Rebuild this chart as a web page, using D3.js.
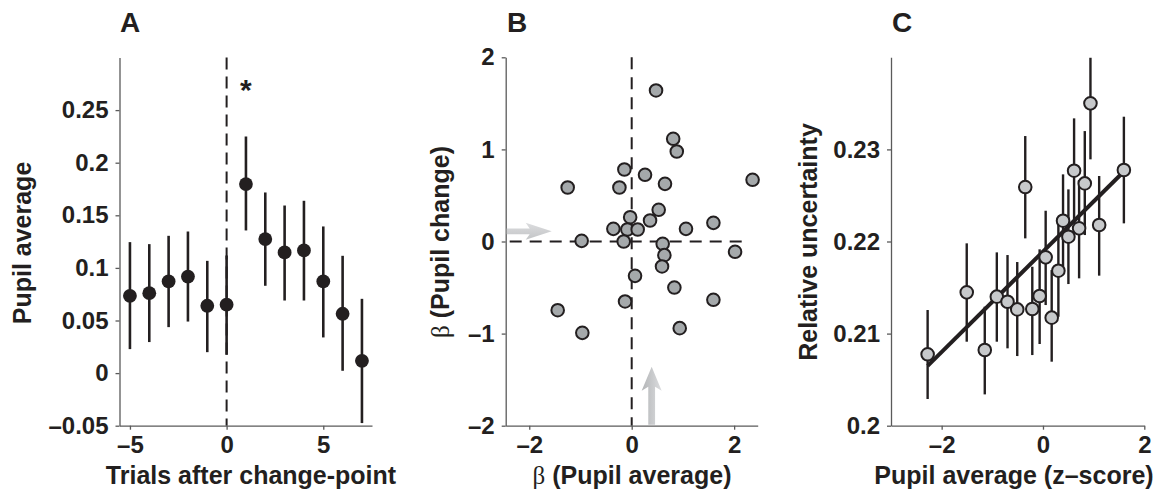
<!DOCTYPE html>
<html><head><meta charset="utf-8">
<script src="https://cdn.jsdelivr.net/npm/d3@7"></script>
<style>
body{margin:0;background:#fff}
svg{display:block}
text{font-family:"Liberation Sans",Arial,Helvetica,sans-serif;font-weight:bold;fill:#231f20}
</style>
</head><body>
<svg id="chart" width="1171" height="498"></svg>
<script>
// ---------- Panel A data ----------
const trialsA = [-5,-4,-3,-2,-1,0,1,2,3,4,5,6,7];
const meanA   = [0.0735,0.076,0.0871,0.0918,0.064,0.065,0.1797,0.1274,0.1147,0.1166,0.0871,0.0564,0.0117];
const upperA  = [0.1245,0.1226,0.1305,0.1346,0.1067,0.1118,0.2249,0.1717,0.1593,0.1638,0.1394,0.1115,0.0706];
const lowerA  = [0.0228,0.0295,0.0437,0.049,0.0199,0.0174,0.1356,0.083,0.069,0.069,0.0339,0.0022,-0.0475];
const starTrialA = 1, starLevelA = 0.276;
const xTicksA = [-5,0,5];
const yTicksA = [-0.05,0,0.05,0.1,0.15,0.2,0.25];

// ---------- Panel B data ----------
const betaAvgB    = [0.475,0.81,0.88,-0.143,0.26,-1.25,-0.24,0.65,2.36,0.527,-0.03,0.358,-0.358,-0.085,0.117,1.06,1.595,-0.977,-0.156,0.605,0.638,0.592,2.018,0.065,0.833,1.595,-0.13,-1.445,-0.964,0.9375];
const betaChangeB = [1.64,1.115,0.977,0.782,0.724,0.586,0.586,0.626,0.67,0.344,0.264,0.228,0.1375,0.13,0.13,0.1375,0.2027,0.007,0.0,-0.025,-0.148,-0.271,-0.112,-0.373,-0.5,-0.633,-0.651,-0.746,-0.992,-0.941];
const meanBetaAvgB = 0.39, meanBetaChangeB = 0.11;
const xTicksB = [-2,0,2];
const yTicksB = [-2,-1,0,1,2];

// ---------- Panel C data ----------
const zC      = [-2.277,-1.505,-1.149,-0.911,-0.700,-0.508,-0.350,-0.211,-0.066,0.053,0.172,0.304,0.396,0.502,0.614,0.713,0.825,0.937,1.109,1.597];
const ruC     = [0.20775,0.21448,0.20822,0.21401,0.21346,0.21263,0.22591,0.21267,0.21408,0.21828,0.21173,0.21683,0.22226,0.22052,0.22769,0.22143,0.22631,0.23500,0.22179,0.22776];
const ruUpperC= [0.21256,0.21980,0.21292,0.21882,0.21853,0.21777,0.23145,0.21726,0.21915,0.22334,0.21690,0.22197,0.22729,0.22566,0.23337,0.22667,0.23199,0.23995,0.22711,0.23355];
const ruLowerC= [0.20290,0.20912,0.20340,0.20912,0.20840,0.20756,0.22034,0.20767,0.20887,0.21310,0.20695,0.21183,0.21726,0.21538,0.22197,0.21600,0.22070,0.22892,0.21629,0.22197];
const fitInterceptC = 0.2189, fitSlopeC = 0.00545;
const xTicksC = [-2,0,2];
const yTicksC = [0.2,0.21,0.22,0.23];

// ---------- drawing ----------
const ink = "#231f20";
const svg = d3.select("#chart");
const fmt = v => String(v).replace("-", "\u2013");

const defs = svg.append("defs");
const gH = defs.append("linearGradient").attr("id","arrH").attr("x1",0).attr("y1",0).attr("x2",0).attr("y2",1);
gH.append("stop").attr("offset","0%").attr("stop-color","#dcdddf");
gH.append("stop").attr("offset","100%").attr("stop-color","#c2c4c6");
const gV = defs.append("linearGradient").attr("id","arrV").attr("x1",0).attr("y1",0).attr("x2",1).attr("y2",0);
gV.append("stop").attr("offset","0%").attr("stop-color","#b3b5b7");
gV.append("stop").attr("offset","100%").attr("stop-color","#dcdddf");

function axes(g, x, y, xt, yt) {
  const ax = g.append("g").attr("transform", `translate(0,${y.range()[0]})`)
    .call(d3.axisBottom(x).tickValues(xt).tickFormat(fmt).tickSize(4).tickSizeOuter(0).tickPadding(6));
  const ay = g.append("g").attr("transform", `translate(${x.range()[0]},0)`)
    .call(d3.axisLeft(y).tickValues(yt).tickFormat(fmt).tickSize(4).tickSizeOuter(0).tickPadding(7));
  [ax, ay].forEach(a => {
    a.select(".domain").attr("stroke", "#5a5a5a").attr("stroke-width", 1.3);
    a.selectAll(".tick line").attr("stroke", "#5a5a5a").attr("stroke-width", 1.3);
    a.selectAll("text").attr("font-size", 24).attr("fill", ink)
      .style("font-family", '"Liberation Sans",Arial,sans-serif').style("font-weight","bold");
  });
}
function title(t, x) {
  svg.append("text").attr("x", x).attr("y", 32).attr("text-anchor","middle").attr("font-size", 28).text(t);
}
function ylabel(parts, x, y) {
  const t = svg.append("text").attr("transform", `translate(${x},${y}) rotate(-90)`)
    .attr("text-anchor","middle").attr("font-size", 25);
  parts.forEach(p => {
    const s = t.append("tspan").text(p.t);
    if (p.greek) s.style("font-family", '"Liberation Serif","DejaVu Serif",serif').style("font-weight","normal");
  });
}
function xlabel(parts, x, y) {
  const t = svg.append("text").attr("x", x).attr("y", y).attr("text-anchor","middle").attr("font-size", 25);
  parts.forEach(p => {
    const s = t.append("tspan").text(p.t);
    if (p.greek) s.style("font-family", '"Liberation Serif","DejaVu Serif",serif').style("font-weight","normal");
  });
}

// ===== Panel A =====
{
  const x = d3.scaleLinear().domain([-5.54, 7.52]).range([119.5, 372]);
  const y = d3.scaleLinear().domain([-0.05, 0.3]).range([425.7, 57.5]);
  const g = svg.append("g");
  g.append("line").attr("x1", x(0)).attr("x2", x(0)).attr("y1", y(0.3)).attr("y2", y(-0.05))
    .attr("stroke", ink).attr("stroke-width", 2).attr("stroke-dasharray", "12,7");
  axes(g, x, y, xTicksA, yTicksA);
  g.selectAll(".eb").data(trialsA).join("line")
    .attr("x1", d => x(d)).attr("x2", d => x(d))
    .attr("y1", (d,i) => y(upperA[i])).attr("y2", (d,i) => y(lowerA[i]))
    .attr("stroke", ink).attr("stroke-width", 2.6);
  g.selectAll(".pt").data(trialsA).join("circle")
    .attr("cx", d => x(d)).attr("cy", (d,i) => y(meanA[i])).attr("r", 6.9).attr("fill", ink);
  g.append("text").attr("x", x(starTrialA)).attr("y", y(starLevelA) + 17).attr("text-anchor","middle")
    .attr("font-size", 30).text("*");
  title("A", 130);
  ylabel([{t:"Pupil average"}], 31, 243);
  xlabel([{t:"Trials after change-point"}], 251, 484);
}

// ===== Panel B =====
{
  const x = d3.scaleLinear().domain([-2.46, 2.46]).range([505.7, 757.7]);
  const y = d3.scaleLinear().domain([-2, 2]).range([425.7, 57.3]);
  const g = svg.append("g");
  g.append("line").attr("x1", x(0)).attr("x2", x(0)).attr("y1", y(2)).attr("y2", y(-2))
    .attr("stroke", ink).attr("stroke-width", 2).attr("stroke-dasharray", "12,8");
  g.append("line").attr("x1", x(-2.46)).attr("x2", x(2.27)).attr("y1", y(0)).attr("y2", y(0))
    .attr("stroke", ink).attr("stroke-width", 2).attr("stroke-dasharray", "12,8").attr("stroke-dashoffset", -4);
  axes(g, x, y, xTicksB, yTicksB);
  // mean arrows
  const ay = y(meanBetaChangeB), x0 = x.range()[0] + 1, tip = x0 + 45;
  g.append("path").attr("d",
    `M${x0},${ay-2.8} L${tip-22},${ay-2.8} L${tip-26},${ay-8.5} L${tip},${ay} L${tip-26},${ay+8.5} L${tip-22},${ay+2.8} L${x0},${ay+2.8} Z`)
    .attr("fill", "url(#arrH)");
  const ax = x(meanBetaAvgB), y0 = y.range()[0] - 1, vtip = y0 - 58;
  g.append("path").attr("d",
    `M${ax-3.4},${y0} L${ax-3.4},${vtip+20} L${ax-10},${vtip+24} L${ax},${vtip} L${ax+10},${vtip+24} L${ax+3.4},${vtip+20} L${ax+3.4},${y0} Z`)
    .attr("fill", "url(#arrV)");
  g.selectAll(".pt").data(betaAvgB).join("circle")
    .attr("cx", d => x(d)).attr("cy", (d,i) => y(betaChangeB[i])).attr("r", 6.3)
    .attr("fill", "#a5a9ab").attr("stroke", ink).attr("stroke-width", 2);
  title("B", 517);
  ylabel([{t:"\u03b2", greek:true},{t:" (Pupil change)"}], 449, 242);
  xlabel([{t:"\u03b2", greek:true},{t:" (Pupil average)"}], 632, 484);
}

// ===== Panel C =====
{
  const x = d3.scaleLinear().domain([-3, 2]).range([891, 1144.3]);
  const y = d3.scaleLinear().domain([0.2, 0.24]).range([425.7, 57.3]);
  const g = svg.append("g");
  axes(g, x, y, xTicksC, yTicksC);
  g.selectAll(".eb").data(zC).join("line")
    .attr("x1", d => x(d)).attr("x2", d => x(d))
    .attr("y1", (d,i) => y(ruUpperC[i])).attr("y2", (d,i) => y(ruLowerC[i]))
    .attr("stroke", ink).attr("stroke-width", 2.4);
  const xr = d3.extent(zC);
  g.append("line").attr("x1", x(xr[0])).attr("x2", x(xr[1]))
    .attr("y1", y(fitInterceptC + fitSlopeC * xr[0])).attr("y2", y(fitInterceptC + fitSlopeC * xr[1]))
    .attr("stroke", ink).attr("stroke-width", 4);
  g.selectAll(".pt").data(zC).join("circle")
    .attr("cx", d => x(d)).attr("cy", (d,i) => y(ruC[i])).attr("r", 6.3)
    .attr("fill", "#c7c9cb").attr("stroke", ink).attr("stroke-width", 2);
  title("C", 902);
  ylabel([{t:"Relative uncertainty"}], 817, 242);
  xlabel([{t:"Pupil average (z\u2013score)"}], 1014, 484);
}
</script>
</body></html>
